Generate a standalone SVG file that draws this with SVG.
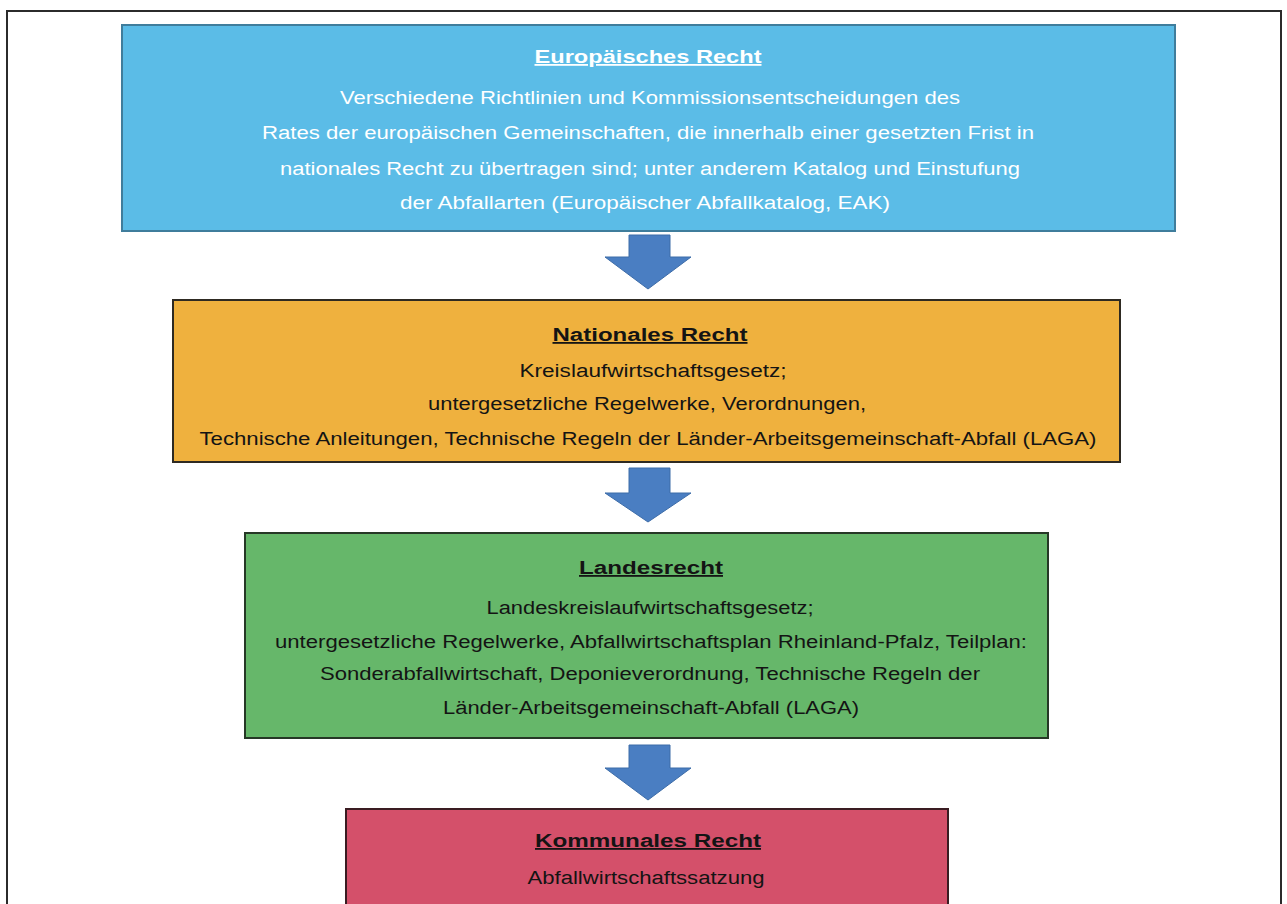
<svg xmlns="http://www.w3.org/2000/svg" width="1287" height="904" viewBox="0 0 1287 904">
<style>
  text { font-family: "Liberation Sans", Arial, sans-serif; font-size: 18px; text-anchor: middle; }
  .t { font-weight: bold; text-decoration: underline; }
  .w { fill: #ffffff; }
  .k { fill: #141414; }
  .box { stroke-width: 2; }
  .arrow { fill: #4a7ec2; stroke: #3d6ca8; stroke-width: 1; }
</style>
<rect width="1287" height="904" fill="#ffffff"/>
<path d="M7,910 V11 H1281 V910" fill="none" stroke="#2b2b2b" stroke-width="2"/>

<g id="connectors">
  <path class="arrow" d="M629,235 H670 V257 H691 L648,289 L605,257 H629 Z"/>
  <path class="arrow" d="M629,468 H670 V493 H691 L648,522 L605,493 H629 Z"/>
  <path class="arrow" d="M629,745 H670 V768 H691 L648,800 L605,768 H629 Z"/>
</g>

<g id="europaeisches-recht">
  <rect class="box" x="122" y="25" width="1053" height="206" fill="#5bbce7" stroke="#3f7d9c" stroke-width="1.5"/>
  <text class="t w" x="648" y="63" textLength="227" lengthAdjust="spacingAndGlyphs">Europäisches Recht</text>
  <text class="w" x="650" y="104" textLength="620" lengthAdjust="spacingAndGlyphs">Verschiedene Richtlinien und Kommissionsentscheidungen des</text>
  <text class="w" x="648" y="139" textLength="772" lengthAdjust="spacingAndGlyphs">Rates der europäischen Gemeinschaften, die innerhalb einer gesetzten Frist in</text>
  <text class="w" x="650" y="175" textLength="740" lengthAdjust="spacingAndGlyphs">nationales Recht zu übertragen sind; unter anderem Katalog und Einstufung</text>
  <text class="w" x="645" y="209" textLength="490" lengthAdjust="spacingAndGlyphs">der Abfallarten (Europäischer Abfallkatalog, EAK)</text>
</g>

<g id="nationales-recht">
  <rect class="box" x="173" y="300" width="947" height="162" fill="#efb13e" stroke="#2e2a22"/>
  <text class="t k" x="650" y="341" textLength="195" lengthAdjust="spacingAndGlyphs">Nationales Recht</text>
  <text class="k" x="653" y="377" textLength="267" lengthAdjust="spacingAndGlyphs">Kreislaufwirtschaftsgesetz;</text>
  <text class="k" x="647" y="410" textLength="438" lengthAdjust="spacingAndGlyphs">untergesetzliche Regelwerke, Verordnungen,</text>
  <text class="k" x="648" y="445" textLength="897" lengthAdjust="spacingAndGlyphs">Technische Anleitungen, Technische Regeln der Länder-Arbeitsgemeinschaft-Abfall (LAGA)</text>
</g>

<g id="landesrecht">
  <rect class="box" x="245" y="533" width="803" height="205" fill="#66b76a" stroke="#263826"/>
  <text class="t k" x="651" y="574" textLength="144" lengthAdjust="spacingAndGlyphs">Landesrecht</text>
  <text class="k" x="650" y="614" textLength="327" lengthAdjust="spacingAndGlyphs">Landeskreislaufwirtschaftsgesetz;</text>
  <text class="k" x="651" y="648" textLength="752" lengthAdjust="spacingAndGlyphs">untergesetzliche Regelwerke, Abfallwirtschaftsplan Rheinland-Pfalz, Teilplan:</text>
  <text class="k" x="650" y="680" textLength="660" lengthAdjust="spacingAndGlyphs">Sonderabfallwirtschaft, Deponieverordnung, Technische Regeln der</text>
  <text class="k" x="651" y="714" textLength="416" lengthAdjust="spacingAndGlyphs">Länder-Arbeitsgemeinschaft-Abfall (LAGA)</text>
</g>

<g id="kommunales-recht">
  <rect class="box" x="346" y="809" width="602" height="110" fill="#d4506a" stroke="#3a1c22"/>
  <text class="t k" x="648" y="847" textLength="226" lengthAdjust="spacingAndGlyphs">Kommunales Recht</text>
  <text class="k" x="646" y="884" textLength="237" lengthAdjust="spacingAndGlyphs">Abfallwirtschaftssatzung</text>
</g>
</svg>
